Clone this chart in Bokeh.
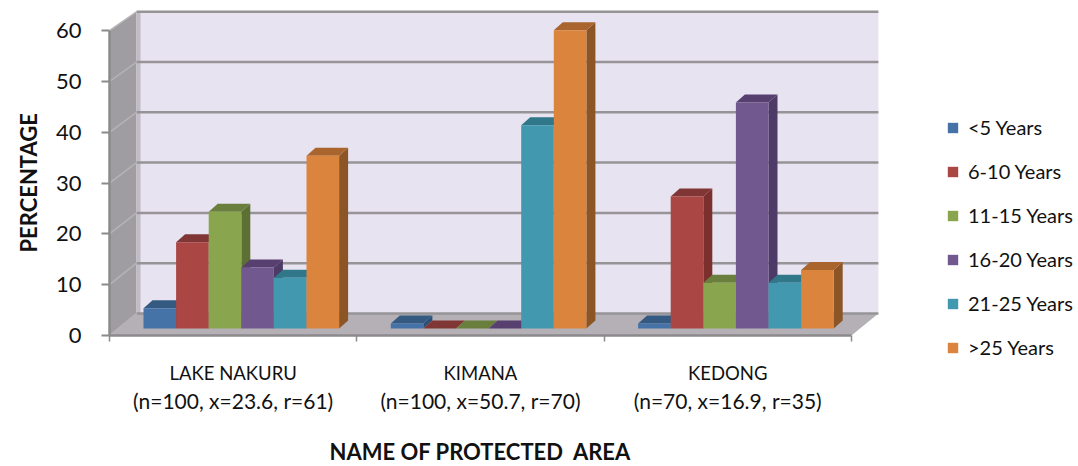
from bokeh.embed import file_html
from bokeh.models import FixedTicker, Legend, LegendItem, LinearAxis, Range1d, Title
from bokeh.plotting import figure
from bokeh.resources import INLINE

# Survey values: percentage of respondents per protected area and age band
areas = ["LAKE NAKURU", "KIMANA", "KEDONG"]
area_notes = ["(n=100, x=23.6, r=61)", "(n=100, x=50.7, r=70)", "(n=70, x=16.9, r=35)"]
bands = ["<5 Years", "6-10 Years", "11-15 Years", "16-20 Years", "21-25 Years", ">25 Years"]
under_5 = [4, 1, 1]
y6_10 = [17, 0, 26]
y11_15 = [23, 0, 9]
y16_20 = [12, 0, 44.5]
y21_25 = [10, 40, 9]
over_25 = [34, 58.7, 11.5]
series = [under_5, y6_10, y11_15, y16_20, y21_25, over_25]

front_colors = ["#4572A7", "#AA4643", "#89A54E", "#71588F", "#4198AF", "#DB843D"]
top_colors = ["#345A82", "#803634", "#6A7F3D", "#573F6F", "#31778A", "#A9652D"]
side_colors = ["#2F5075", "#7C302E", "#5C7034", "#4D3A66", "#2E6F82", "#8C5526"]

grid_values = [0, 10, 20, 30, 40, 50, 60]

FONT = "Lato"
INK = "#111111"
AXIS_GREY = "#8C8A8C"

# Scale of the front plane, and the oblique offset used to fake depth
X_UNIT, Y_UNIT = 247.3, 5.08
WALL_DX, WALL_DY = 27 / X_UNIT, 22 / Y_UNIT
WALL_SCALE = 0.99
BAR_WIDTH = 32.6 / X_UNIT
BAR_START = 0.1375
BAR_BASE = 7 / Y_UNIT
BAR_DX, BAR_DY = 9 / X_UNIT, 8 / Y_UNIT

p = figure(
    width=1078, height=466, output_backend="svg", toolbar_location=None,
    x_range=Range1d(0, 771 / X_UNIT), y_range=Range1d(0, 335 / Y_UNIT),
    x_axis_type=None, y_axis_type=None, frame_width=771, frame_height=335,
    min_border_left=109, min_border_right=0, min_border_top=0, min_border_bottom=131,
    outline_line_color=None, background_fill_color="white",
)
p.xgrid.visible = False
p.ygrid.visible = False


def wall_y(v):
    return WALL_DY + v * WALL_SCALE


top = grid_values[-1]
x_end = float(len(areas))

# Back wall, side wall and floor of the box
p.patch([WALL_DX, x_end + WALL_DX, x_end + WALL_DX, WALL_DX],
        [wall_y(0), wall_y(0), wall_y(top), wall_y(top)],
        fill_color="#E8E3F0", line_color=None)
p.patch([0, WALL_DX, WALL_DX, 0], [0, wall_y(0), wall_y(top), top],
        fill_color="#A09DA2", line_color=None)
p.patch([WALL_DX, WALL_DX + 4 / X_UNIT, WALL_DX + 4 / X_UNIT, WALL_DX],
        [wall_y(0), wall_y(0), wall_y(top), wall_y(top)],
        fill_color="#BFBCC5", line_color=None)
p.patch([0, x_end, x_end + WALL_DX, WALL_DX], [0, 0, wall_y(0), wall_y(0)],
        fill_color="#B4B0B6", line_color=None)

# Grid lines on the back wall, continued across the side wall
p.multi_line([[WALL_DX, x_end + WALL_DX] for _ in grid_values],
             [[wall_y(v), wall_y(v)] for v in grid_values],
             line_color="#969496", line_width=2.5)
p.multi_line([[0, WALL_DX] for _ in grid_values],
             [[v, wall_y(v)] for v in grid_values],
             line_color="#B5B3B5", line_width=1.5)

# Bars: side face, top face, then the front face on top
legend_items = []
for s, values in enumerate(series):
    lefts = [i + BAR_START + s * BAR_WIDTH for i in range(len(areas))]
    rights = [x + BAR_WIDTH for x in lefts]
    tops = [BAR_BASE + v for v in values]
    p.patches(
        [[r, r + BAR_DX, r + BAR_DX, r] for r in rights],
        [[BAR_BASE, BAR_BASE + BAR_DY, t + BAR_DY, t] for t in tops],
        fill_color=side_colors[s], line_color=None,
    )
    p.patches(
        [[l, l + BAR_DX, r + BAR_DX, r] for l, r in zip(lefts, rights)],
        [[t, t + BAR_DY, t + BAR_DY, t] for t in tops],
        fill_color=top_colors[s], line_color=None,
    )
    front = p.quad(left=lefts, right=rights, bottom=BAR_BASE, top=tops,
                   fill_color=front_colors[s], line_color=None)
    legend_items.append(LegendItem(label=bands[s], renderers=[front]))

# Value axis along the front edge of the side wall
y_axis = LinearAxis(
    ticker=FixedTicker(ticks=grid_values), bounds=(0, top),
    axis_line_color=AXIS_GREY, axis_line_width=2.5,
    major_tick_line_color=AXIS_GREY, major_tick_line_width=2,
    major_tick_out=8, major_tick_in=0, minor_tick_line_color=None,
    major_label_text_font=FONT, major_label_text_font_size="22px",
    major_label_text_color=INK, major_label_standoff=20,
)
p.add_layout(y_axis, "left")
p.add_layout(Title(text="PERCENTAGE", align="left", offset=83, standoff=22,
                   text_font=FONT, text_font_size="22px", text_font_style="bold",
                   text_color=INK), "left")

# Category scale: boundary ticks and area names, then the sample notes below them
centers = [i + 0.5 for i in range(len(areas))]

name_axis = LinearAxis(
    ticker=FixedTicker(ticks=centers, minor_ticks=[0, 1, 2, 3]), bounds=(0, x_end),
    major_label_overrides=dict(zip(centers, areas)),
    axis_line_color=AXIS_GREY, axis_line_width=2.5,
    major_tick_line_color=None, major_tick_out=0, major_tick_in=0,
    minor_tick_line_color=AXIS_GREY, minor_tick_line_width=1.5,
    minor_tick_out=6, minor_tick_in=0,
    major_label_text_font=FONT, major_label_text_font_size="18.5px",
    major_label_text_color=INK, major_label_standoff=20,
)
p.add_layout(name_axis, "below")

note_axis = LinearAxis(
    ticker=FixedTicker(ticks=centers), bounds=(0, x_end),
    major_label_overrides=dict(zip(centers, area_notes)),
    axis_line_color=None, major_tick_line_color=None, minor_tick_line_color=None,
    major_tick_out=0, major_tick_in=0,
    major_label_text_font=FONT, major_label_text_font_size="21px",
    major_label_text_color=INK, major_label_standoff=1,
)
p.add_layout(note_axis, "below")

p.add_layout(Title(text="NAME OF PROTECTED\u00a0 AREA", align="left", offset=220, standoff=41,
                   text_font=FONT, text_font_size="22px", text_font_style="bold",
                   text_color=INK), "below")

legend = Legend(
    items=legend_items, location=(66, -24), orientation="vertical",
    glyph_width=13, glyph_height=13, label_standoff=9, spacing=20,
    padding=0, margin=0, border_line_color=None, background_fill_alpha=0,
    label_text_font=FONT, label_text_font_size="20px", label_text_color=INK,
)
p.add_layout(legend, "right")

open("out.html", "w").write(file_html(p, INLINE))
